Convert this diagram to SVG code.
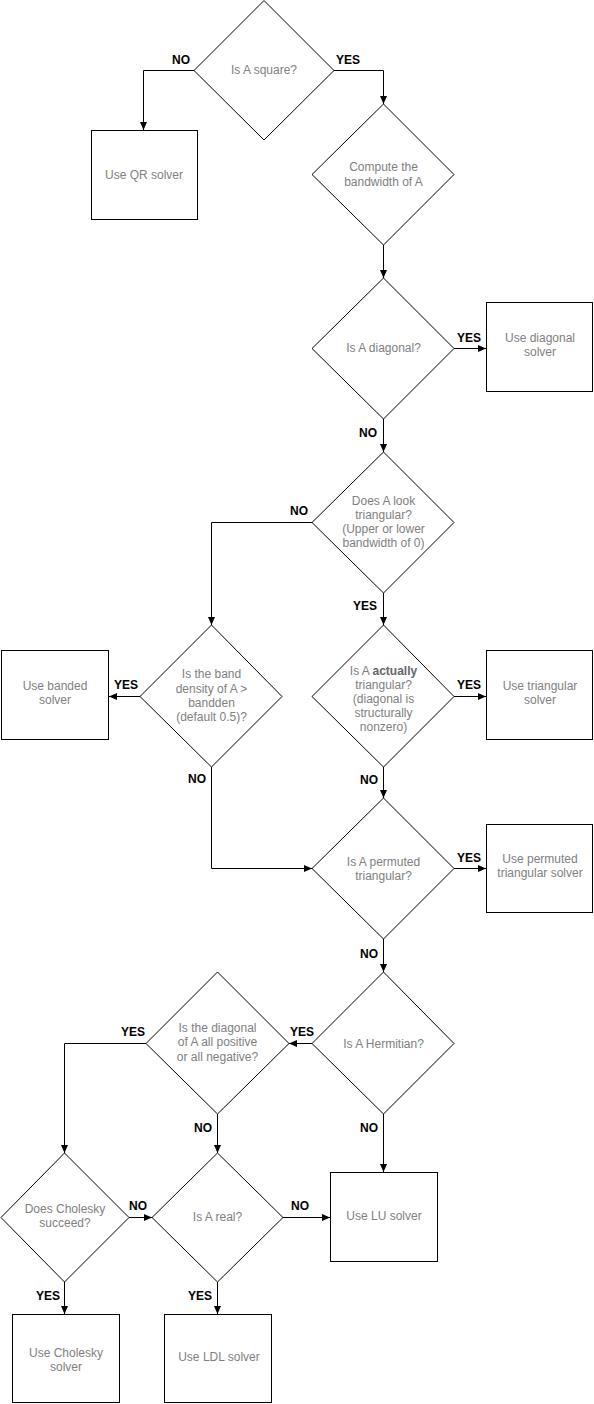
<svg xmlns="http://www.w3.org/2000/svg" width="594" height="1404" viewBox="0 0 594 1404">
<defs>
<marker id="ah" viewBox="0 0 8 8" refX="8" refY="4" markerWidth="8" markerHeight="8" markerUnits="userSpaceOnUse" orient="auto">
<path d="M0,0.5 L8,4 L0,7.5 Z" fill="#000"/>
</marker>
<style>
.s{fill:#fff;stroke:#000;stroke-width:1}
.t{font-family:"Liberation Sans",Arial,sans-serif;font-size:12px;fill:#808080;text-anchor:middle}
.l{font-family:"Liberation Sans",Arial,sans-serif;font-size:12px;font-weight:bold;fill:#000;text-anchor:middle}
.c{fill:none;stroke:#000;stroke-width:1;marker-end:url(#ah)}
</style>
</defs>
<rect width="594" height="1404" fill="#fff"/>
<g id="connectors">
<path class="c" d="M194,70.5 H143.5 V130"/>
<path class="c" d="M334,70.5 H383.5 V104"/>
<path class="c" d="M383.5,245 V278"/>
<path class="c" d="M454,348.5 H486"/>
<path class="c" d="M383.5,419 V452"/>
<path class="c" d="M312,522.5 H211.5 V625"/>
<path class="c" d="M383.5,593 V625"/>
<path class="c" d="M140,696.5 H109"/>
<path class="c" d="M454,696.5 H486"/>
<path class="c" d="M211.5,767 V868.5 H312"/>
<path class="c" d="M383.5,767 V798"/>
<path class="c" d="M454,868.5 H486"/>
<path class="c" d="M383.5,939 V972"/>
<path class="c" d="M312,1043.5 H289"/>
<path class="c" d="M146,1043.5 H64.5 V1153"/>
<path class="c" d="M217.5,1114 V1153"/>
<path class="c" d="M383.5,1114 V1172"/>
<path class="c" d="M129,1217.5 H152"/>
<path class="c" d="M283,1217.5 H330"/>
<path class="c" d="M64.5,1282 V1314"/>
<path class="c" d="M217.5,1282 V1314"/>
<text class="l" x="181" y="64">NO</text>
<text class="l" x="348" y="64">YES</text>
<text class="l" x="469" y="342">YES</text>
<text class="l" x="368" y="437">NO</text>
<text class="l" x="299" y="515">NO</text>
<text class="l" x="365" y="610">YES</text>
<text class="l" x="126" y="689">YES</text>
<text class="l" x="469" y="689">YES</text>
<text class="l" x="197" y="783">NO</text>
<text class="l" x="369" y="784">NO</text>
<text class="l" x="469" y="862">YES</text>
<text class="l" x="369" y="958">NO</text>
<text class="l" x="302" y="1036">YES</text>
<text class="l" x="133" y="1036">YES</text>
<text class="l" x="203" y="1132">NO</text>
<text class="l" x="369" y="1132">NO</text>
<text class="l" x="138" y="1210">NO</text>
<text class="l" x="300" y="1210">NO</text>
<text class="l" x="48" y="1300">YES</text>
<text class="l" x="200" y="1300">YES</text>
</g>
<g id="d1"><path class="s" d="M264,0.5 L334,70.5 L264,140 L194,70.5 Z"/><text class="t" x="264" y="74">Is A square?</text></g>
<g id="qr"><rect class="s" x="91.5" y="130.5" width="106" height="89"/><text class="t" x="144" y="179">Use QR solver</text></g>
<g id="d2"><path class="s" d="M383.5,104 L454,174.5 L383.5,245 L312,174.5 Z"/><text class="t" x="383.5" y="171">Compute the</text><text class="t" x="383.5" y="186">bandwidth of A</text></g>
<g id="d3"><path class="s" d="M383.5,278 L454,348.5 L383.5,419 L312,348.5 Z"/><text class="t" x="383.5" y="352">Is A diagonal?</text></g>
<g id="diag"><rect class="s" x="486.5" y="302.5" width="106" height="89"/><text class="t" x="540" y="342">Use diagonal</text><text class="t" x="540" y="356">solver</text></g>
<g id="d4"><path class="s" d="M383.5,452 L454,522.5 L383.5,593 L312,522.5 Z"/><text class="t" x="383.5" y="505">Does A look</text><text class="t" x="383.5" y="519">triangular?</text><text class="t" x="383.5" y="533">(Upper or lower</text><text class="t" x="383.5" y="547">bandwidth of 0)</text></g>
<g id="d5"><path class="s" d="M211.5,625 L282,696.5 L211.5,767 L140,696.5 Z"/><text class="t" x="211.5" y="678">Is the band</text><text class="t" x="211.5" y="693">density of A &gt;</text><text class="t" x="211.5" y="707">bandden</text><text class="t" x="211.5" y="721">(default 0.5)?</text></g>
<g id="banded"><rect class="s" x="1.5" y="650.5" width="107" height="89"/><text class="t" x="55" y="690">Use banded</text><text class="t" x="55" y="704">solver</text></g>
<g id="d6"><path class="s" d="M383.5,625 L454,696.5 L383.5,767 L312,696.5 Z"/><text class="t" x="383.5" y="675">Is A <tspan font-weight="bold" fill="#666">actually</tspan></text><text class="t" x="383.5" y="689">triangular?</text><text class="t" x="383.5" y="703">(diagonal is</text><text class="t" x="383.5" y="717">structurally</text><text class="t" x="383.5" y="731">nonzero)</text></g>
<g id="tri"><rect class="s" x="486.5" y="650.5" width="106" height="89"/><text class="t" x="540" y="690">Use triangular</text><text class="t" x="540" y="704">solver</text></g>
<g id="d7"><path class="s" d="M383.5,798 L454,868.5 L383.5,939 L312,868.5 Z"/><text class="t" x="383.5" y="866">Is A permuted</text><text class="t" x="383.5" y="880">triangular?</text></g>
<g id="perm"><rect class="s" x="486.5" y="824.5" width="106" height="88"/><text class="t" x="540" y="863">Use permuted</text><text class="t" x="540" y="877">triangular solver</text></g>
<g id="d8"><path class="s" d="M383.5,972 L454,1043.5 L383.5,1114 L312,1043.5 Z"/><text class="t" x="383.5" y="1048">Is A Hermitian?</text></g>
<g id="d9"><path class="s" d="M217.5,972 L289,1043.5 L217.5,1114 L146,1043.5 Z"/><text class="t" x="217.5" y="1032">Is the diagonal</text><text class="t" x="217.5" y="1046">of A all positive</text><text class="t" x="217.5" y="1061">or all negative?</text></g>
<g id="lu"><rect class="s" x="330.5" y="1172.5" width="107" height="89"/><text class="t" x="384" y="1220">Use LU solver</text></g>
<g id="d10"><path class="s" d="M64.5,1153 L129,1217.5 L64.5,1282 L1,1217.5 Z"/><text class="t" x="65" y="1213">Does Cholesky</text><text class="t" x="65" y="1227">succeed?</text></g>
<g id="d11"><path class="s" d="M217.5,1153 L283,1217.5 L217.5,1282 L152,1217.5 Z"/><text class="t" x="217.5" y="1221">Is A real?</text></g>
<g id="chol"><rect class="s" x="12.5" y="1314.5" width="107" height="88"/><text class="t" x="66" y="1357">Use Cholesky</text><text class="t" x="66" y="1371">solver</text></g>
<g id="ldl"><rect class="s" x="164.5" y="1314.5" width="107" height="88"/><text class="t" x="219" y="1361">Use LDL solver</text></g>
</svg>
